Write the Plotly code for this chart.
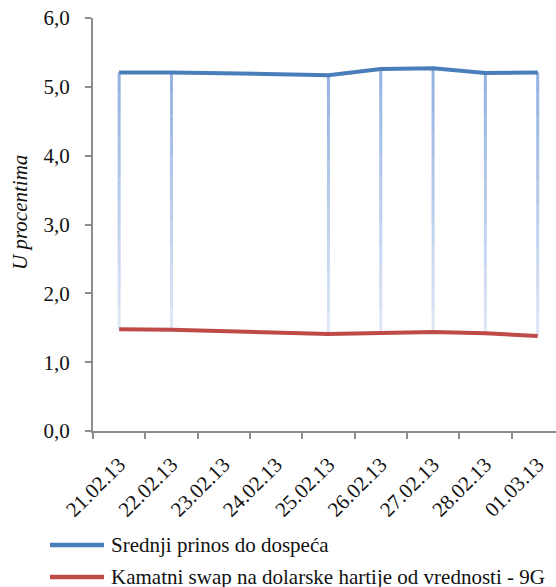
import plotly.graph_objects as go

dates = ["21.02.13", "22.02.13", "23.02.13", "24.02.13", "25.02.13",
         "26.02.13", "27.02.13", "28.02.13", "01.03.13"]
srednji = [5.21, 5.21, None, None, 5.17, 5.26, 5.27, 5.20, 5.21]
kamatni = [1.48, 1.47, None, None, 1.41, 1.43, 1.44, 1.42, 1.38]
names = ["Srednji prinos do dospeća",
         "Kamatni swap na dolarske hartije od vrednosti - 9G"]
colors = ["#4a7ebb", "#be4b48"]
y_ticks = [0, 1, 2, 3, 4, 5, 6]
y_title = "U procentima"

FONT = "Liberation Serif, Times New Roman, serif"

fig = go.Figure()

# high-low lines with a vertical gradient (dark top -> light bottom)
n_seg = 12
top_rgb = (0x92, 0xb0, 0xe0)
bot_rgb = (0xdf, 0xe8, 0xf6)
for d, hi, lo in zip(dates, srednji, kamatni):
    if hi is None or lo is None:
        continue
    for k in range(n_seg):
        t = (k + 0.5) / n_seg
        c = tuple(int(round(bot_rgb[i] + (top_rgb[i] - bot_rgb[i]) * t)) for i in range(3))
        y0 = lo + (hi - lo) * k / n_seg
        y1 = lo + (hi - lo) * (k + 1) / n_seg
        fig.add_trace(go.Scatter(
            x=[d, d], y=[y0, y1], mode="lines",
            line=dict(color="rgb(%d,%d,%d)" % c, width=3),
            showlegend=False, hoverinfo="skip"))

for vals, name, col in zip([srednji, kamatni], names, colors):
    fig.add_trace(go.Scatter(
        x=dates, y=vals, mode="lines", name=name, connectgaps=True,
        line=dict(color=col, width=4), showlegend=False))

# manual legend (paper coords relative to plot area: 93..556 x, 18..431 y)
legend_y = [-0.276, -0.3535]
for name, col, ly in zip(names, colors, legend_y):
    fig.add_shape(type="line", xref="paper", yref="paper",
                  x0=-0.0929, x1=0.0238, y0=ly, y1=ly,
                  line=dict(color=col, width=4.5))
    fig.add_annotation(text=name, xref="paper", yref="paper",
                       x=0.0335, y=ly, xanchor="left", yanchor="middle",
                       showarrow=False,
                       font=dict(family=FONT, size=21, color="#111"))

# y-axis title
fig.add_annotation(text="<i>%s</i>" % y_title, xref="paper", yref="paper",
                   x=-0.158, y=0.53, xanchor="center", yanchor="middle",
                   textangle=-90, showarrow=False,
                   font=dict(family=FONT, size=21, color="#111"))

fig.update_layout(
    width=556, height=587,
    margin=dict(l=93, r=0, t=18, b=156, autoexpand=False),
    plot_bgcolor="white", paper_bgcolor="white",
    separators=",.",
    font=dict(family=FONT, color="#111"),
    xaxis=dict(
        type="category", categoryorder="array", categoryarray=dates,
        range=[-0.5, 8.35], tickson="boundaries", automargin=False,
        ticks="outside", ticklen=6, tickwidth=2, tickcolor="#8c8c8c",
        showline=True, linecolor="#8c8c8c", linewidth=2,
        showgrid=False, zeroline=False, ticklabelstandoff=11,
        tickangle=-45, tickfont=dict(family=FONT, size=21, color="#111"),
    ),
    yaxis=dict(
        range=[0, 6], tickvals=y_ticks, tickformat=".1f", automargin=False,
        ticks="outside", ticklen=6, tickwidth=2, tickcolor="#8c8c8c",
        showline=True, linecolor="#8c8c8c", linewidth=2,
        showgrid=False, zeroline=False, ticklabelstandoff=11,
        tickfont=dict(family=FONT, size=21, color="#111"),
    ),
)

fig.write_html("out.html", config={"displayModeBar": False},
               post_script="document.body.style.margin='0px';")
